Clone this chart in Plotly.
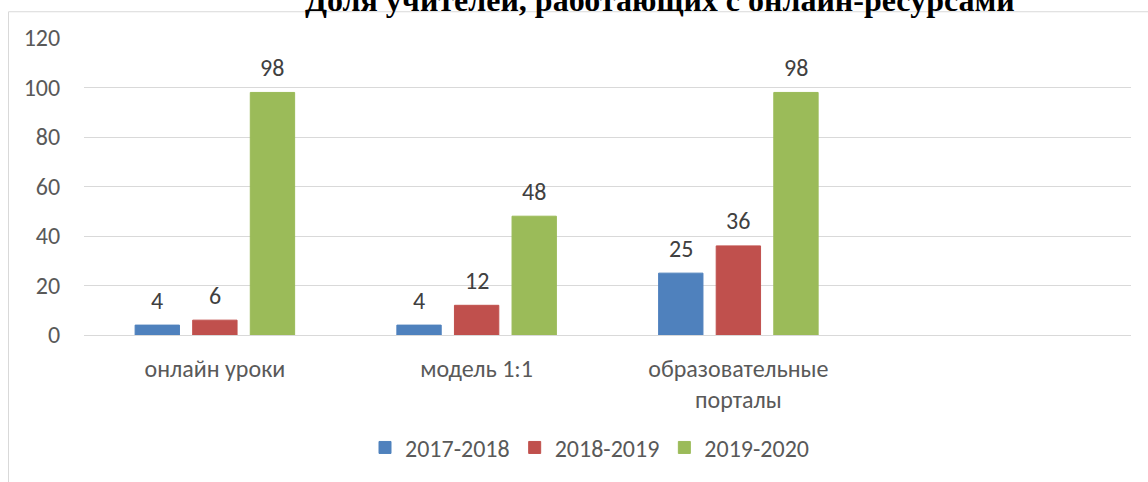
import plotly.graph_objects as go

categories = ["онлайн уроки", "модель 1:1", "образовательные<br>порталы"]
series_names = ["2017-2018", "2018-2019", "2019-2020"]
values_2017 = [4, 4, 25]
values_2018 = [6, 12, 36]
values_2019 = [98, 48, 98]
colors = ["#4F81BD", "#C0504D", "#9BBB59"]
y_ticks = [0, 20, 40, 60, 80, 100, 120]
title_text = "Доля учителей, работающих с онлайн-ресурсами"

W, H = 1148, 482
ML, MR, MT, MB = 84, 17, 38, 144
plot_w = W - ML - MR
plot_h = H - MT - MB

FONT = "Carlito, Calibri, 'Open Sans', sans-serif"
fs = 24

x_pos = list(range(len(categories)))
all_series = [values_2017, values_2018, values_2019]

fig = go.Figure()
for name, vals, col in zip(series_names, all_series, colors):
    fig.add_trace(go.Bar(x=x_pos, y=vals, name=name,
                         marker=dict(color=col, line=dict(width=1, color=col))))

bargap = 0.34
bargroupgap = 0.23
cat_px = plot_w / 4
slot_px = cat_px * (1 - bargap) / 3

annotations = []
for j, vals in enumerate(all_series):
    for i, v in enumerate(vals):
        annotations.append(dict(
            x=i, y=v, xref="x", yref="y", text=str(v), showarrow=False,
            xshift=(j - 1) * slot_px, yshift=25, yanchor="middle",
            font=dict(family=FONT, size=fs, color="#404040"),
        ))

annotations.append(dict(
    x=(660 - ML) / plot_w, y=(338 - 20) / plot_h, xref="paper", yref="paper",
    text="<b>" + title_text + "</b>", showarrow=False, xanchor="center", yanchor="bottom",
    font=dict(family="'Liberation Serif', 'Times New Roman', serif", size=32, color="#000000"),
))

shapes = [dict(
    type="rect", xref="paper", yref="paper",
    x0=(8.5 - ML) / plot_w, x1=(1170 - ML) / plot_w,
    y0=(H - 490 - MB) / plot_h, y1=(H - 11.5 - MB) / plot_h,
    line=dict(color="#D9D9D9", width=1), fillcolor="rgba(0,0,0,0)", layer="below",
)]

fig.update_layout(
    width=W, height=H,
    margin=dict(l=ML, r=MR, t=MT, b=MB, pad=0),
    paper_bgcolor="white", plot_bgcolor="white",
    barmode="group", bargap=bargap, bargroupgap=bargroupgap,
    showlegend=True,
    legend=dict(orientation="h", x=(590 - ML) / plot_w, xanchor="center",
                y=(338 - 452) / plot_h, yanchor="middle",
                font=dict(family=FONT, size=fs, color="#595959"),
                bgcolor="rgba(0,0,0,0)"),
    annotations=annotations,
    shapes=shapes,
    xaxis=dict(range=[-0.5, 3.5], tickvals=x_pos, ticktext=categories,
               showgrid=False, zeroline=False, showline=False,
               ticks="outside", ticklen=12, tickcolor="rgba(0,0,0,0)",
               tickfont=dict(family=FONT, size=fs, color="#595959")),
    yaxis=dict(range=[0, 120], tickvals=y_ticks, showgrid=True, gridcolor="#D9D9D9", gridwidth=1,
               zeroline=True, zerolinecolor="#D9D9D9", zerolinewidth=1, showline=False,
               ticks="outside", ticklen=18, tickcolor="rgba(0,0,0,0)",
               tickfont=dict(family=FONT, size=fs, color="#595959")),
)

fig.write_html("out.html")
